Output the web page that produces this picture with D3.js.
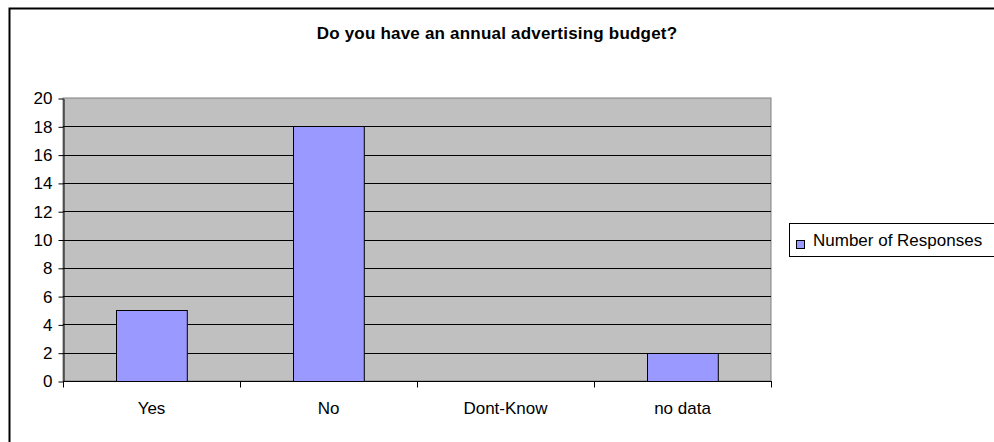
<!DOCTYPE html>
<html>
<head>
<meta charset="utf-8">
<script src="https://cdn.jsdelivr.net/npm/d3@7"></script>
<style>
  html, body { margin: 0; padding: 0; background: #fff; }
  svg { display: block; font-family: "Liberation Sans", Arial, sans-serif; }
</style>
</head>
<body>
<svg id="chart" width="994" height="442"></svg>
<script>
// Survey responses
const categories = ["Yes", "No", "Dont-Know", "no data"];
const responses = [5, 18, 0, 2];
const yTicks = [0, 2, 4, 6, 8, 10, 12, 14, 16, 18, 20];
const titleText = "Do you have an annual advertising budget?";
const seriesName = "Number of Responses";

const svg = d3.select("#chart");
const plot = { left: 63, top: 98, right: 771, bottom: 381 };

// outer chart frame
svg.append("rect")
  .attr("x", 9.5).attr("y", 8.5)
  .attr("width", 1000).attr("height", 1000)
  .attr("fill", "none").attr("stroke", "#000").attr("stroke-width", 2);

svg.append("text")
  .attr("x", 497).attr("y", 38.5)
  .attr("text-anchor", "middle")
  .attr("font-size", 17).attr("font-weight", "bold")
  .attr("letter-spacing", 0.2)
  .text(titleText);

const x = d3.scaleBand().domain(categories)
  .range([plot.left, plot.right]).paddingInner(0.6).paddingOuter(0.3);
const xBand = d3.scaleBand().domain(categories).range([plot.left, plot.right]);
const y = d3.scaleLinear().domain([0, 20]).range([plot.bottom, plot.top]);

// plot background
svg.append("rect")
  .attr("x", plot.left).attr("y", plot.top)
  .attr("width", plot.right - plot.left).attr("height", plot.bottom - plot.top)
  .attr("fill", "#c0c0c0").attr("stroke", "#808080").attr("stroke-width", 1);

// gridlines
svg.append("g").selectAll("line")
  .data(yTicks.filter(t => t > 0 && t < 20))
  .join("line")
  .attr("x1", plot.left).attr("x2", plot.right)
  .attr("y1", d => Math.round(y(d)) + 0.5).attr("y2", d => Math.round(y(d)) + 0.5)
  .attr("stroke", "#000").attr("stroke-width", 1);

// bars
svg.append("g").selectAll("rect")
  .data(categories.map((c, i) => ({ c, v: responses[i] })).filter(d => d.v > 0))
  .join("rect")
  .attr("x", d => Math.round(x(d.c)) + 0.5)
  .attr("y", d => Math.round(y(d.v)) + 0.5)
  .attr("width", x.bandwidth())
  .attr("height", d => Math.round(y(0)) - Math.round(y(d.v)))
  .attr("fill", "#9999ff").attr("stroke", "#000").attr("stroke-width", 1);

// y axis
const yAxis = d3.axisLeft(y).tickValues(yTicks).tickSize(5).tickPadding(6).tickSizeOuter(0);
const gy = svg.append("g")
  .attr("transform", `translate(${plot.left + 0.5},0.5)`)
  .call(yAxis);
gy.selectAll("text").attr("font-size", 17).attr("fill", "#000")
  .attr("font-family", "Liberation Sans, Arial, sans-serif");

// x axis with ticks between categories
const gx = svg.append("g").attr("transform", `translate(0,${plot.bottom + 0.5})`);
gx.append("line")
  .attr("x1", plot.left).attr("x2", plot.right + 1)
  .attr("stroke", "#000");
const boundaries = categories.map(c => xBand(c)).concat([plot.right]);
gx.selectAll("line.tk").data(boundaries).join("line")
  .attr("class", "tk")
  .attr("x1", d => Math.round(d) + 0.5).attr("x2", d => Math.round(d) + 0.5)
  .attr("y1", 0).attr("y2", 6)
  .attr("stroke", "#000");
gx.selectAll("text").data(categories).join("text")
  .attr("x", d => xBand(d) + xBand.bandwidth() / 2)
  .attr("y", 32)
  .attr("text-anchor", "middle")
  .attr("font-size", 17)
  .text(d => d);

// legend
const lg = svg.append("g");
lg.append("rect")
  .attr("x", 789.5).attr("y", 223.5).attr("width", 220).attr("height", 33)
  .attr("fill", "#fff").attr("stroke", "#000");
lg.append("rect")
  .attr("x", 796.5).attr("y", 240.5).attr("width", 8).attr("height", 8)
  .attr("fill", "#9999ff").attr("stroke", "#000");
lg.append("text")
  .attr("x", 813).attr("y", 246)
  .attr("font-size", 17)
  .text(seriesName);
</script>
</body>
</html>
